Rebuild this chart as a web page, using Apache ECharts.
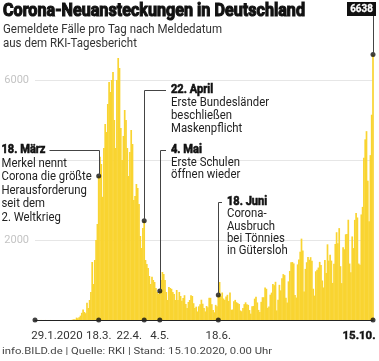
<!DOCTYPE html>
<html><head><meta charset="utf-8">
<script src="https://cdn.jsdelivr.net/npm/echarts@6/dist/echarts.min.js"></script>
<style>html,body{margin:0;padding:0;background:#fff}#c{width:379px;height:361px}</style>
</head><body><div id="c"></div>
<script>
// Daily reported new cases, 29.1.2020 – 15.10.2020
const jan = [0, 0, 1];
const feb = [2,1,1,0,1,1,0,0,0,1, 2,0,0,0,0,0,0,0,0,0, 0,0,0,0,0,2,10,21,13];
const mar = [60,45,70,110,180,260,200,170,430,300, 500,700,1450,900,1500,2000,2400, 3600,4080,3900, 3080,4300,4900,4700, 5400,5950,5700, 6000,6200,5000,4300];
const apr = [6000,6550,6300, 4800,4000, 4600,5250,5000,4300, 3600, 4200,4750,4400, 3000, 3100,3400,3300,2900, 2100,1800, 2300,2480, 1500,1400,1300,1100, 900,1080,1000,950];
const may = [800,700,650, 725,1000,1200,1150,1000, 700,500,825, 800,780,700,650,500,750, 500,700,600,480,550,620, 400,300,450,500,620,600,420,300];
const jun = [333,213,342,394,507,407,301,214,350,318, 555,555,396,247,192,378,345,625,950,601, 687,537,503,587,630,477,687,256,262,466];
const jul = [503,446,422,397,239,219,298,397,442,395, 378,248,159,342,351,534,583,439,252,202, 454,570,569,815,781,305,340,633,684,902,870];
const aug = [955,240,509,879,741,1045,1147,1122,555,436, 966,1226,1445,1449,1415,625,561,1390,1510,1707, 2034,1737,711,1278,1444,1576,1507,1571,1479,782,610];
const sep = [1218,1256,1311,1453,1378,988,814,1499,1176,1892, 1484,1630,1485,927,1407,1901,2194,1916,2297,1345, 922,1821,1769,2143,2153,2507,1411,1192,2089,1798];
const oct = [2503,2673,2563,1411,1382,2639,2828,4058,4516,4721, 3483,2467,4122,5132,6638];

const values = [].concat(jan, feb, mar, apr, may, jun, jul, aug, sep, oct);
const categories = values.map((_, i) => { const d = new Date(2020, 0, 29 + i); return d.getDate() + '.' + (d.getMonth() + 1) + '.'; });

const xTickIdx = [0, 49, 84, 96, 141, 260];
const xTickLabels = ['29.1.2020', '18.3.', '22.4.', '4.5.', '18.6.', '15.10.'];
const yTickLabels = [2000, 6000];

const noteIdx = [49, 84, 96, 141];
const noteDot = [3600, 2480, 725, 625];
const noteTitles = ['18. März', '22. April', '4. Mai', '18. Juni'];
const noteLines = [
  ['Merkel nennt', 'Corona die größte', 'Herausforderung', 'seit dem', '2. Weltkrieg'],
  ['Erste Bundesländer', 'beschließen', 'Maskenpflicht'],
  ['Erste Schulen', 'öffnen wieder'],
  ['Corona-', 'Ausbruch', 'bei Tönnies', 'in Gütersloh']
];
const lastValue = oct[oct.length - 1];
const titleText = 'Corona-Neuansteckungen in Deutschland';
const subLines = ['Gemeldete Fälle pro Tag nach Meldedatum', 'aus dem RKI-Tagesbericht'];
const footerText = 'info.BILD.de | Quelle: RKI | Stand: 15.10.2020, 0.00 Uhr';

const F = 'Roboto, "Noto Sans", sans-serif';
const ctx = document.createElement('canvas').getContext('2d');
const measure = (s, size, weight) => { ctx.font = (weight || 'normal') + ' ' + size + 'px ' + F; return ctx.measureText(s).width; };
// horizontal squeeze factors so the fallback font matches the narrow original
const sTitle = 302 / measure(titleText, 18, 'bold');
const sSub = 219 / measure(subLines[0], 12);
const sNote = 98 / measure('Erste Bundesländer', 12);
const sNoteB = 44 / measure('18. März', 12.5, 'bold');
const sFoot = 270 / measure(footerText, 8.5);

const chart = echarts.init(document.getElementById('c'));

chart.setOption({
  animation: false,
  grid: { left: 35, right: 6, top: 0, bottom: 41 },
  xAxis: {
    type: 'category', data: categories, boundaryGap: false,
    axisLine: { lineStyle: { color: '#222', width: 1 } },
    axisTick: { show: false },
    axisLabel: {
      interval: (i) => xTickIdx.includes(i),
      showMinLabel: true, showMaxLabel: true, hideOverlap: false,
      margin: 10, fontFamily: F, fontSize: 11.5, color: '#333',
      formatter: (v, i) => {
        const k = xTickIdx.indexOf(i);
        if (k < 0) return '';
        const t = xTickLabels[k];
        if (k === 0) return '{l|' + t + '}';
        if (k === xTickIdx.length - 1) return '{b|' + t + '}';
        if (t === '22.4.') return '{s|' + t + '}';
        return '{n|' + t + '}';
      },
      rich: {
        n: { fontFamily: F, fontSize: 11.5, color: '#333' },
        l: { fontFamily: F, fontSize: 11.5, color: '#333', padding: [0, 0, 0, 44] },
        s: { fontFamily: F, fontSize: 11.5, color: '#333', padding: [0, 30, 0, 0] },
        b: { fontFamily: F, fontSize: 11.5, color: '#111', fontWeight: 'bold', textBorderColor: '#111', textBorderWidth: 0.4, padding: [0, 28, 0, 0] }
      }
    },
    z: 10
  },
  yAxis: {
    type: 'value', min: 0, max: 8000, interval: 2000,
    axisLine: { show: false }, axisTick: { show: false },
    axisLabel: { formatter: v => yTickLabels.includes(v) ? String(v) : '', color: '#c4c4c4', fontSize: 11, margin: 6, fontFamily: F },
    splitLine: { lineStyle: { color: ['rgba(0,0,0,0)', '#e6e6e6', '#e6e6e6', '#e6e6e6', 'rgba(0,0,0,0)'] } }
  },
  series: [
    { type: 'bar', data: values, barWidth: 1.7, itemStyle: { color: '#f9d431' }, z: 2, silent: true },
    { type: 'scatter', data: noteIdx.map((i, k) => [i, noteDot[k]]).concat([[values.length - 1, lastValue]]),
      symbolSize: 5, itemStyle: { color: '#111' }, z: 6, clip: false, silent: true },
    { type: 'scatter', data: xTickIdx.map(i => [i, 0]), symbolSize: 5, itemStyle: { color: '#111' }, z: 6, clip: false, silent: true }
  ]
});

const px = (i, v) => chart.convertToPixel({ gridIndex: 0 }, [i, v]);
const g = [];
const txt = (x, y, s, size, weight, color, sx, align, strokeW) => g.push({
  type: 'text', x, y, scaleX: sx, silent: true, z: 20,
  style: Object.assign({ text: s, fontFamily: F, fontSize: size, fontWeight: weight || 'normal', fill: color, align: align || 'left', verticalAlign: 'middle' },
    strokeW ? { stroke: color, lineWidth: strokeW } : {})
});
const line = (pts) => g.push({ type: 'polyline', silent: true, z: 15, shape: { points: pts }, style: { stroke: '#444', lineWidth: 1, fill: null } });

// header
txt(3, 11.5, titleText, 18, 'bold', '#111', sTitle, null, 1.1);
txt(3, 30, subLines[0], 12, null, '#333', sSub);
txt(3, 44, subLines[1], 12, null, '#333', sSub);
// footer
txt(2, 352, footerText, 8.5, null, '#444', sFoot);

// annotations
const boxX = [1.5, 171, 171, 227];
const boxY = [150, 89.5, 150, 202];
const lh = [13.5, 13, 12.5, 12.3];
noteIdx.forEach((idx, k) => {
  const p = px(idx, noteDot[k]);
  const dx = Math.round(p[0]) + 0.5;
  const y0 = Math.round(boxY[k]) + 0.5;
  txt(boxX[k], boxY[k], noteTitles[k], 12.5, 'bold', '#111', sNoteB, null, 0.6);
  noteLines[k].forEach((s, j) => txt(boxX[k], boxY[k] + lh[k] * (j + 1), s, 12, null, '#222', sNote));
  const startX = k === 0 ? boxX[0] + measure(noteTitles[0], 12.5, 'bold') * sNoteB + 4 : boxX[k] - 5;
  line([[startX, y0], [dx, y0], [dx, p[1]]]);
});

// last value box
const pl = px(values.length - 1, lastValue);
const lx = Math.round(pl[0]) + 0.5;
g.push({ type: 'rect', silent: true, z: 20, shape: { x: 347, y: 2, width: 29, height: 14 }, style: { fill: '#111' } });
txt(361.5, 9.5, String(lastValue), 11, 'bold', '#fff', 0.9, 'center', 0.3);
line([[lx, 16], [lx, pl[1]]]);

chart.setOption({ graphic: g });
</script></body></html>
